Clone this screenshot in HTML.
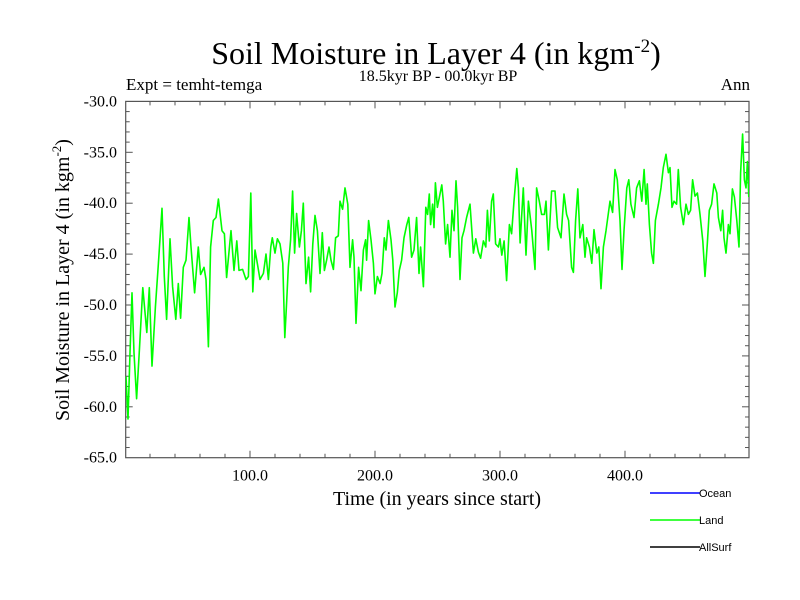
<!DOCTYPE html>
<html><head><meta charset="utf-8"><style>
html,body{margin:0;padding:0;background:#fff;}
svg{display:block;}
text{font-family:"Liberation Serif",serif;fill:#000;}
.sans{font-family:"Liberation Sans",sans-serif;}
</style></head><body>
<svg id="chart" width="800" height="600" viewBox="0 0 800 600">
<text x="436" y="64" font-size="32" text-anchor="middle">Soil Moisture in Layer 4 (in kgm<tspan dy="-12" font-size="19">-2</tspan><tspan dy="12">)</tspan></text>
<text x="126" y="90" font-size="17">Expt = temht-temga</text>
<text x="438" y="81" font-size="16" text-anchor="middle">18.5kyr BP - 00.0kyr BP</text>
<text x="750" y="90" font-size="17" text-anchor="end">Ann</text>
<text transform="translate(69,280) rotate(-90)" font-size="20" text-anchor="middle">Soil Moisture in Layer 4 (in kgm<tspan dy="-8" font-size="13">-2</tspan><tspan dy="8">)</tspan></text>
<text x="437" y="505" font-size="20" text-anchor="middle">Time (in years since start)</text>
<g id="axes"></g>
<defs><clipPath id="plotclip"><rect x="125.7" y="101.4" width="623.3" height="356.3"/></clipPath></defs>
<g id="series" clip-path="url(#plotclip)"></g>
<g>
<line x1="650" y1="493" x2="700" y2="493" stroke="#0000ff" stroke-width="1.5"/>
<text class="sans" x="699" y="497" font-size="11">Ocean</text>
<line x1="650" y1="520" x2="700" y2="520" stroke="#00ff00" stroke-width="1.5"/>
<text class="sans" x="699" y="524" font-size="11">Land</text>
<line x1="650" y1="547" x2="700" y2="547" stroke="#000" stroke-width="1.5"/>
<text class="sans" x="699" y="551" font-size="11">AllSurf</text>
</g>
</svg>
<script>
const years = [0.8,2.4,4.0,5.6,7.2,9.3,11.5,14.2,17.4,19.4,21.6,24.3,26.7,29.6,31.4,33.3,36.0,38.1,40.6,42.6,44.5,46.6,48.8,51.2,52.8,55.7,58.6,60.5,63.2,64.8,66.7,68.5,70.6,72.8,74.7,77.6,79.5,81.3,84.8,87.2,89.4,91.2,94.1,96.8,98.7,100.6,102.2,104.0,105.8,108.0,110.7,112.8,114.7,116.6,117.8,120.0,121.9,124.0,126.2,127.8,129.4,130.6,
132.5,134.1,135.7,137.3,139.5,141.1,142.6,144.8,146.9,148.5,150.2,152.0,153.9,156.0,157.8,159.5,161.3,163.2,164.8,166.7,168.5,170.6,172.0,174.1,176.0,178.2,180.0,182.1,183.2,184.8,186.9,188.8,190.7,192.5,193.3,194.9,196.8,198.7,200.0,201.9,204.1,205.6,207.4,208.8,210.7,212.8,214.2,216.0,217.8,219.4,221.3,223.2,225.4,227.0,229.3,231.2,233.3,235.2,236.5,238.7,240.6,242.1,243.4,244.5,246.1,247.2,248.3,249.9,251.5,253.4,254.6,256.5,258.1,260.0,
261.6,263.2,264.8,266.1,268.0,269.6,271.2,273.3,276.0,278.7,280.6,282.7,284.5,286.7,288.6,289.9,291.4,293.3,294.6,296.5,298.7,300.0,301.4,303.3,305.3,307.5,309.3,311.2,313.4,314.7,316.1,318.6,320.8,322.7,325.4,328.0,329.3,331.4,333.3,335.5,336.8,338.7,341.3,344.0,346.1,348.8,351.2,353.3,354.9,357.3,358.7,360.5,362.2,364.0,366.2,368.0,369.3,371.5,373.4,375.2,377.4,379.0,380.8,382.7,384.8,388.0,
390.1,392.0,393.8,396.0,397.6,399.2,401.4,403.0,404.7,407.2,409.3,411.5,413.4,415.3,416.8,417.8,419.5,421.3,422.7,424.3,426.7,428.8,430.6,432.8,434.7,436.0,437.6,439.2,441.3,442.6,444.5,446.7,448.8,450.7,452.5,454.1,456.0,457.9,460.0,462.2,464.0,465.8,467.4,469.3,471.2,473.4,474.7,476.6,478.1,479.2,480.8,482.7,484.0,485.9,487.5,489.4,491.2,492.5,494.1,495.5,496.8,497.9,499.0];
const landValues = [-57.0,-61.2,-54.7,-48.8,-54.7,-59.2,-54.4,-48.3,-52.7,-48.3,-56.0,-50.2,-45.9,-40.5,-47.2,-51.4,-43.5,-48.2,-51.4,-47.9,-51.3,-46.3,-45.6,-41.4,-44.3,-48.8,-44.3,-47.0,-46.3,-47.5,-54.1,-44.3,-41.7,-41.4,-39.6,-42.7,-43.0,-47.3,-42.7,-46.6,-43.7,-46.6,-46.5,-47.5,-47.2,-39.0,-48.7,-44.6,-45.9,-47.5,-46.9,-45.0,-47.5,-44.3,-43.4,-44.9,-43.5,-44.0,-45.9,-53.2,-49.4,-46.3,
-43.6,-38.8,-44.9,-41.0,-44.3,-42.7,-40.0,-47.9,-45.3,-48.7,-44.0,-41.2,-42.7,-46.9,-42.9,-46.6,-45.6,-44.3,-45.6,-46.5,-43.4,-43.2,-39.8,-40.6,-38.5,-40.1,-46.3,-43.6,-45.3,-51.8,-46.3,-48.6,-44.6,-43.6,-45.6,-41.7,-43.6,-45.9,-48.9,-47.2,-47.9,-46.9,-43.4,-44.6,-41.7,-43.6,-45.6,-50.2,-48.8,-46.6,-45.6,-43.4,-42.1,-41.4,-45.3,-44.6,-41.4,-46.9,-44.3,-48.2,-40.4,-41.1,-39.1,-42.1,-40.1,-42.4,-38.0,-40.4,-39.4,-38.2,-39.8,-44.0,-42.1,-45.3,
-40.7,-42.7,-37.8,-40.4,-47.5,-43.4,-42.7,-41.4,-40.1,-44.9,-43.5,-44.8,-45.4,-43.7,-44.3,-40.7,-43.7,-39.8,-39.1,-44.0,-44.3,-43.5,-45.1,-43.7,-47.6,-42.1,-43.0,-39.8,-36.6,-38.5,-43.9,-38.5,-45.1,-39.8,-42.7,-46.5,-38.5,-39.8,-41.1,-41.1,-39.8,-44.6,-38.8,-38.8,-42.4,-43.4,-39.1,-41.1,-41.7,-46.3,-46.8,-41.7,-38.6,-43.4,-42.1,-45.3,-43.4,-44.3,-45.9,-42.6,-44.9,-44.3,-48.4,-44.3,-42.7,-39.8,
-40.9,-36.7,-37.7,-41.7,-46.5,-42.7,-38.5,-37.7,-40.1,-41.4,-38.5,-37.8,-39.8,-36.7,-40.1,-38.1,-42.1,-44.9,-45.9,-41.7,-40.1,-38.5,-36.5,-35.2,-37.0,-36.5,-40.4,-39.8,-40.1,-36.7,-40.4,-42.1,-40.1,-41.1,-40.7,-37.7,-39.3,-39.0,-41.1,-43.7,-47.2,-44.0,-40.7,-40.1,-38.1,-39.0,-41.4,-42.7,-40.7,-43.4,-44.9,-42.1,-43.0,-38.6,-39.4,-41.7,-44.3,-37.0,-33.2,-37.7,-38.5,-35.9,-39.4,-40.1];
const xTickValues = [100, 200, 300, 400];
const xTickLabels = ["100.0", "200.0", "300.0", "400.0"];
const yTickValues = [-30, -35, -40, -45, -50, -55, -60, -65];
const yTickLabels = ["-30.0", "-35.0", "-40.0", "-45.0", "-50.0", "-55.0", "-60.0", "-65.0"];

const NS = "http://www.w3.org/2000/svg";
const L = 125.7, R = 749, T = 101.4, B = 457.7;
function xScale(v){ return 125 + 1.25 * v; }
function yScale(v){ return T + (-30 - v) * (B - T) / 35; }
function mk(tag, attrs, parent){
  const e = document.createElementNS(NS, tag);
  for (const k in attrs) e.setAttribute(k, attrs[k]);
  parent.appendChild(e);
  return e;
}
const axes = document.getElementById("axes");
const frame = mk("rect", {x:L, y:T, width:R-L, height:B-T, fill:"none", stroke:"#555", "stroke-width":1.2}, axes);


for (let v = 20; v < 500; v += 20) {
  const major = v % 100 === 0;
  const len = major ? 7 : 4;
  const xx = xScale(v);
  const t1 = mk("line", {x1:xx, x2:xx, y1:B, y2:B-len, stroke:"#555", "stroke-width":1}, axes);
  
  
  const t2 = mk("line", {x1:xx, x2:xx, y1:T, y2:T+len, stroke:"#555", "stroke-width":1}, axes);
  
  
}
xTickValues.forEach((v, i) => {
  const t = mk("text", {x:xScale(v), y:B+23, "font-size":16, "text-anchor":"middle"}, axes);
  t.textContent = xTickLabels[i];
  
  
});
for (let v = -64; v < -30; v += 1) {
  const major = v % 5 === 0;
  const len = major ? 7 : 4;
  const yy = yScale(v);
  const t1 = mk("line", {x1:L, x2:L+len, y1:yy, y2:yy, stroke:"#555", "stroke-width":1}, axes);
  
  
  const t2 = mk("line", {x1:R, x2:R-len, y1:yy, y2:yy, stroke:"#555", "stroke-width":1}, axes);
  
  
}
yTickValues.forEach((v, i) => {
  const t = mk("text", {x:117, y:yScale(v)+5, "font-size":16, "text-anchor":"end"}, axes);
  t.textContent = yTickLabels[i];
  
  
});
const series = document.getElementById("series");
const pts = years.map((y, i) => xScale(y).toFixed(1) + "," + yScale(landValues[i]).toFixed(1)).join(" ");
const line = mk("polyline", {points:pts, fill:"none", stroke:"#00ff00", "stroke-width":1.6, "stroke-linejoin":"round"}, series);


</script>
</body></html>
